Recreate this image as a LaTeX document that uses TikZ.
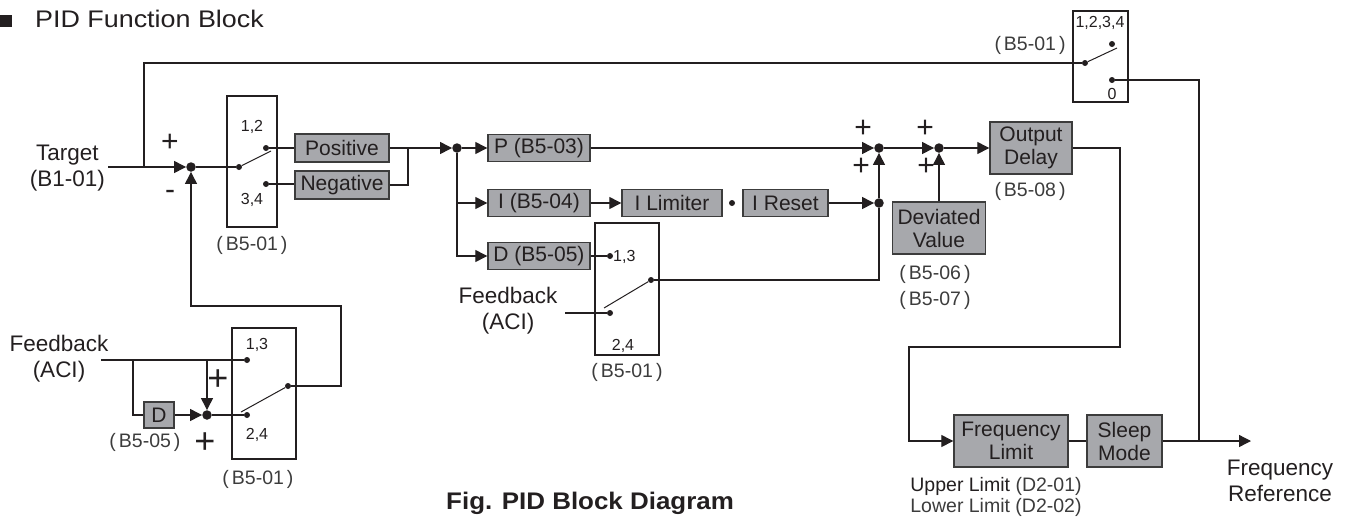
\documentclass[tikz,border=0pt]{standalone}
\usepackage{fontspec}
\setmainfont{Liberation Sans}
\newfontfamily\titlefont{Liberation Sans}[FakeStretch=1.12]
\newfontfamily\capfont{Liberation Sans}[FakeStretch=1.08]
\usetikzlibrary{arrows.meta}
\definecolor{ink}{RGB}{35,31,32}
\definecolor{boxgray}{RGB}{167,168,172}
\definecolor{boxline}{RGB}{60,60,60}
\definecolor{soft}{RGB}{60,60,60}
\newcommand\pp[1]{(\kern3pt#1\kern3pt)}
\newcommand\fL{\fontsize{22.5}{26}\selectfont}
\newcommand\fB{\fontsize{21}{23}\selectfont}
\newcommand\fP{\fontsize{19.5}{26}\selectfont}
\newcommand\fS{\fontsize{16}{18}\selectfont}
\tikzset{
  every node/.style={text=ink},
  blk/.style={draw=boxline, fill=boxgray, line width=1.4pt, inner sep=0pt, font=\fB, align=center},
  swbox/.style={draw=ink, line width=1.2pt, inner sep=0pt},
  sdot/.style={circle, fill=ink, inner sep=0pt, minimum size=9.5pt},
  cdot/.style={circle, fill=ink, inner sep=0pt, minimum size=6pt},
  lbl/.style={font=\fL, align=center, inner sep=0pt},
  plbl/.style={font=\fP, align=center, inner sep=0pt, text=soft},
  num/.style={font=\fS, inner sep=0pt},
  sgn/.style={font=\fontsize{30}{30}\selectfont, inner sep=0pt},
  bigsgn/.style={font=\fontsize{36}{36}\selectfont, inner sep=0pt},
  wire/.style={draw=ink, line width=1.3pt},
  arm/.style={draw=ink, line width=1pt},
  arr/.style={wire, -{Triangle[length=12pt,width=12pt]}},
}
\begin{document}
\begin{tikzpicture}[x=1pt,y=-1pt]
\useasboundingbox (0,0) rectangle (1352,520);

% title
\node[fill=ink, minimum size=12pt, inner sep=0pt] (bul) at (6,21) {};
\node[anchor=base west, font=\titlefont\fontsize{24}{28}\selectfont, inner sep=0pt] (title) at (35,27) {PID Function Block};

% target and first summing point
\node[lbl, anchor=east] (target) at (105,168) {Target\\(B1-01)};
\coordinate (tstart) at (108,167);
\coordinate (tj) at (144,167);
\coordinate (tjtop) at (144,63);
\node[sdot] (s1) at (191,167) {};
\node[sgn] (s1p) at (170,143) {+};
\node[sgn] (s1m) at (170,195) {-};
\draw[arr] (tstart) -- (s1);

% switch 1
\node[swbox, minimum width=50pt, minimum height=131pt] (sw1) at (252,161.5) {};
\node[cdot] (sw1p) at (239,167) {};
\node[cdot] (sw1a) at (266,148) {};
\node[cdot] (sw1b) at (266,184) {};
\coordinate (sw1arm) at (271,151);
\draw[arm] (sw1p) -- (sw1arm);
\node[num] (sw1t) at (252,127) {1,2};
\node[num] (sw1u) at (252,200) {3,4};
\node[plbl] (sw1l) at (252,245) {\pp{B5-01}};
\draw[wire] (s1) -- (sw1p);

% positive / negative
\node[blk, minimum width=94pt, minimum height=28pt] (pos) at (342,148) {Positive};
\node[blk, minimum width=94pt, minimum height=28pt] (neg) at (342,185) {Negative};
\draw[wire] (sw1a) -- (pos);
\draw[wire] (sw1b) -- (neg.west |- sw1b);
\coordinate (mj) at (408,148);
\draw[wire] (neg.east) -| (mj);
\draw[wire] (pos) -- (mj);
\node[sdot] (d1) at (457,148) {};
\draw[arr] (mj) -- (d1);

% P, I, D
\node[blk, minimum width=102pt, minimum height=27pt] (pb) at (539,148) {P (B5-03)};
\node[blk, minimum width=102pt, minimum height=27pt] (ib) at (539,203) {I (B5-04)};
\node[blk, minimum width=102pt, minimum height=27pt] (db) at (539,256) {D (B5-05)};
\draw[arr] (d1) -- (pb);
\draw[arr] (d1) |- (ib);
\draw[arr] (d1) |- (db);

\node[blk, minimum width=100pt, minimum height=27pt] (il) at (672,203) {I Limiter};
\node[cdot] (idot) at (732,203) {};
\node[blk, minimum width=85pt, minimum height=27pt] (ir) at (785.5,203) {I Reset};
\draw[arr] (ib) -- (il);

\node[sdot] (s2) at (879,148) {};
\node[sdot] (s2b) at (879,203) {};
\draw[arr] (pb) -- (s2);
\draw[arr] (ir) -- (s2b);
\draw[arr] (s2b) -- (s2);
\node[sgn] (s2p1) at (863,129) {+};
\node[sgn] (s2p2) at (861,167) {+};

% switch 2 (D / feedback)
\node[swbox, minimum width=64pt, minimum height=132pt] (sw2) at (627,289) {};
\node[cdot] (sw2a) at (610,256) {};
\node[cdot] (sw2b) at (610,313) {};
\node[cdot] (sw2p) at (651,280) {};
\coordinate (sw2arm) at (604,308);
\draw[arm] (sw2arm) -- (sw2p);
\node[num, anchor=west] (sw2t) at (613,257) {1,3};
\node[num] (sw2u) at (623,346) {2,4};
\node[plbl] (sw2l) at (627,372) {\pp{B5-01}};
\node[lbl] (fb2) at (508,311) {Feedback\\(ACI)};
\coordinate (fb2in) at (565,313);
\draw[wire] (db) -- (sw2a);
\draw[wire] (fb2in) -- (sw2b);
\draw[wire] (sw2p) -| (s2b);

% third summing point, deviated value, output delay
\node[sdot] (s3) at (939,148) {};
\draw[arr] (s2) -- (s3);
\node[sgn] (s3p1) at (925,129) {+};
\node[sgn] (s3p2) at (926,167) {+};
\node[blk, minimum width=93pt, minimum height=52pt] (dv) at (939,228) {Deviated\\Value};
\draw[arr] (dv) -- (s3);
\node[plbl] (dvl) at (935,287) {\pp{B5-06}\\\pp{B5-07}};
\node[blk, minimum width=82pt, minimum height=52pt] (od) at (1031,148) {Output\\Delay};
\draw[arr] (s3) -- (od);
\node[plbl] (odl) at (1030,191) {\pp{B5-08}};

% top-right switch
\node[swbox, minimum width=55pt, minimum height=91pt] (sw4) at (1100.5,56.5) {};
\node[num] (sw4t) at (1100,23) {1,2,3,4};
\node[cdot] (sw4a) at (1112,44) {};
\node[cdot] (sw4p) at (1085,63) {};
\node[cdot] (sw4b) at (1112,80) {};
\coordinate (sw4arm) at (1117,48);
\draw[arm] (sw4p) -- (sw4arm);
\node[num] (sw4u) at (1112,94) {0};
\node[plbl] (sw4l) at (1030,45) {\pp{B5-01}};
\draw[wire] (tj) -- (tjtop) -- (sw4p);

% output path
\node[blk, minimum width=114pt, minimum height=52pt] (fl) at (1011,441) {Frequency\\Limit};
\node[blk, minimum width=75pt, minimum height=52pt] (sm) at (1124.5,441) {Sleep\\Mode};
\coordinate (odr) at (1120,148);
\coordinate (odd) at (1120,347);
\coordinate (odl2) at (909,347);
\draw[arr] (od) -- (odr) -- (odd) -- (odl2) |- (fl);
\draw[wire] (fl) -- (sm);
\coordinate (rj) at (1199,441);
\coordinate (frend) at (1251,441);
\draw[arr] (sm) -- (frend);
\draw[wire] (sw4b) -| (rj);
\node[lbl] (frl) at (1280,481) {Frequency\\Reference};
\node[font=\fontsize{19.5}{21}\selectfont, align=center, inner sep=0pt] (lim) at (996,497) {Upper Limit {\color{soft}(D2-01)}\\{\color{soft}Lower Limit (D2-02)}};

% bottom-left feedback
\node[swbox, minimum width=64pt, minimum height=131pt] (sw3) at (264,393.5) {};
\node[num] (sw3t) at (257,345) {1,3};
\node[cdot] (sw3a) at (247,360) {};
\node[cdot] (sw3b) at (247,415) {};
\node[num] (sw3u) at (257,435) {2,4};
\node[cdot] (sw3p) at (288,386) {};
\coordinate (sw3arm) at (241,412);
\draw[arm] (sw3arm) -- (sw3p);
\node[plbl] (sw3l) at (258,479) {\pp{B5-01}};
\coordinate (lp1) at (341,386);
\coordinate (lp2) at (341,306);
\draw[arr] (sw3p) -- (lp1) -- (lp2) -| (s1);

\node[lbl] (fb1) at (59,359) {Feedback\\(ACI)};
\coordinate (fb1in) at (101,360);
\draw[wire] (fb1in) -- (sw3a);
\coordinate (bj) at (133,360);
\node[blk, minimum width=30pt, minimum height=26pt] (dsm) at (159,415) {D};
\draw[wire] (bj) |- (dsm);
\node[sdot] (s4) at (207,415) {};
\coordinate (vj) at (207,360);
\draw[arr] (dsm) -- (s4);
\draw[arr] (vj) -- (s4);
\draw[wire] (s4) -- (sw3b);
\node[bigsgn] (s4p1) at (218,380) {+};
\node[bigsgn] (s4p2) at (205,443) {+};
\node[plbl] (dsml) at (145,442) {\pp{B5-05}};

% caption
\node[font=\capfont\bfseries\fontsize{24}{28}\selectfont, inner sep=0pt] (cap) at (590,503) {Fig. PID Block Diagram};
\end{tikzpicture}
\end{document}
